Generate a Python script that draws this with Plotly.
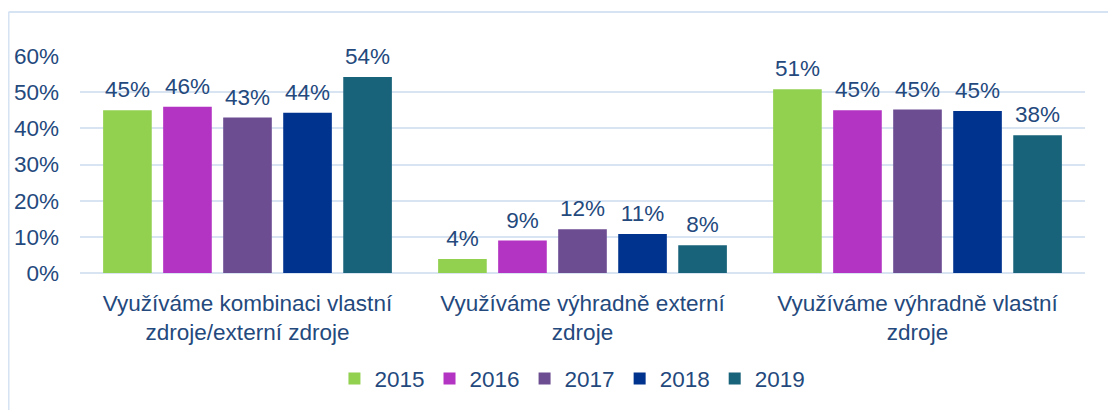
import plotly.graph_objects as go

categories = [
    "Využíváme kombinaci vlastní<br>zdroje/externí zdroje",
    "Využíváme výhradně externí<br>zdroje",
    "Využíváme výhradně vlastní<br>zdroje",
]
years = ["2015", "2016", "2017", "2018", "2019"]
# hodnoty v %
v2015 = [45.0, 3.9, 50.8]
v2016 = [46.0, 9.0, 45.0]
v2017 = [43.0, 12.1, 45.2]
v2018 = [44.3, 10.8, 44.8]
v2019 = [54.2, 7.7, 38.1]
y_ticks = [0, 10, 20, 30, 40, 50, 60]

series = [v2015, v2016, v2017, v2018, v2019]
colors = ["#92D050", "#B333C2", "#6C4D92", "#00338E", "#18627A"]
text_color = "#24497D"
font_family = "Liberation Sans, Arial, sans-serif"
fs = 22.5

fig = go.Figure()
for year, vals, col in zip(years, series, colors):
    fig.add_trace(go.Bar(
        x=categories, y=vals, name=year, offsetgroup=year,
        marker=dict(color=col, line=dict(width=0)),
    ))
# popisky hodnot - neviditelné body, aby byl text o kus výš nad sloupcem
for year, vals in zip(years, series):
    fig.add_trace(go.Scatter(
        x=categories, y=vals, offsetgroup=year, mode="markers+text",
        marker=dict(size=10, opacity=0),
        text=[f"{round(v):d}%" for v in vals],
        textposition="top center",
        textfont=dict(size=fs, color=text_color, family=font_family),
        showlegend=False, hoverinfo="skip", cliponaxis=False,
    ))

# rámeček grafu (levá a horní čára)
fig.add_shape(type="line", xref="paper", yref="paper",
              x0=-0.0711, x1=1.05, y0=1.2028, y1=1.2028,
              line=dict(color="#D6E3F3", width=2))
fig.add_shape(type="line", xref="paper", yref="paper",
              x0=-0.0711, x1=-0.0711, y0=1.2028, y1=-0.7,
              line=dict(color="#D6E3F3", width=2))

fig.update_layout(
    width=1116, height=410,
    margin=dict(l=72, r=39, t=48, b=145, autoexpand=False),
    plot_bgcolor="white", paper_bgcolor="white",
    barmode="group", bargap=0.104, bargroupgap=0.19,
    scattermode="group", scattergap=0.104,
    font=dict(family=font_family, size=fs, color=text_color),
    showlegend=True,
    legend=dict(orientation="h", x=0.49, xanchor="center", y=-0.488, yanchor="middle",
                font=dict(size=fs, color=text_color), itemwidth=30, traceorder="normal"),
    xaxis=dict(range=[-0.5, 2.5], showgrid=False, showline=False, ticks="", automargin=False,
               ticklabelstandoff=14, tickfont=dict(size=fs, color=text_color)),
    yaxis=dict(range=[0, 60], tickvals=y_ticks, ticktext=[f"{t}%" for t in y_ticks],
               showgrid=True, gridcolor="#D9E4F3", gridwidth=2, zeroline=True,
               zerolinecolor="#D9E4F3", zerolinewidth=2, automargin=False,
               tickfont=dict(size=fs, color=text_color), ticks="", ticklabelstandoff=20),
)

fig.write_html("out.html")
